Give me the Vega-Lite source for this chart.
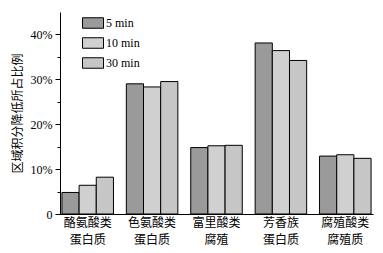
{
  "$schema": "https://vega.github.io/schema/vega-lite/v6.json",
  "autosize": {"type": "none"},
  "padding": {"left": 60, "top": 12, "right": 10, "bottom": 39},
  "width": 313,
  "height": 202,
  "background": "white",
  "config": {"view": {"stroke": null}},
  "data": {
    "values": [
      {"cat": "酪氨酸类\n蛋白质", "t": "5 min", "v": 4.8},
      {"cat": "酪氨酸类\n蛋白质", "t": "10 min", "v": 6.4},
      {"cat": "酪氨酸类\n蛋白质", "t": "30 min", "v": 8.2},
      {"cat": "色氨酸类\n蛋白质", "t": "5 min", "v": 29.0},
      {"cat": "色氨酸类\n蛋白质", "t": "10 min", "v": 28.3},
      {"cat": "色氨酸类\n蛋白质", "t": "30 min", "v": 29.5},
      {"cat": "富里酸类\n腐殖", "t": "5 min", "v": 14.8},
      {"cat": "富里酸类\n腐殖", "t": "10 min", "v": 15.2},
      {"cat": "富里酸类\n腐殖", "t": "30 min", "v": 15.3},
      {"cat": "芳香族\n蛋白质", "t": "5 min", "v": 38.1},
      {"cat": "芳香族\n蛋白质", "t": "10 min", "v": 36.4},
      {"cat": "芳香族\n蛋白质", "t": "30 min", "v": 34.2},
      {"cat": "腐殖酸类\n腐殖质", "t": "5 min", "v": 12.9},
      {"cat": "腐殖酸类\n腐殖质", "t": "10 min", "v": 13.2},
      {"cat": "腐殖酸类\n腐殖质", "t": "30 min", "v": 12.4}
    ]
  },
  "mark": {"type": "bar", "stroke": "black", "strokeWidth": 1},
  "encoding": {
    "x": {
      "field": "cat",
      "type": "nominal",
      "sort": null,
      "scale": {"paddingInner": 0.2, "paddingOuter": 0.03},
      "axis": {
        "title": null,
        "labelAngle": 0,
        "labelExpr": "split(datum.label, '\\n')",
        "labelFont": "Noto Sans CJK SC",
        "labelFontSize": 12,
        "labelColor": "black",
        "labelLineHeight": 17,
        "labelPadding": 3,
        "ticks": false,
        "domainColor": "black",
        "domainWidth": 1
      }
    },
    "xOffset": {"field": "t", "type": "nominal", "sort": ["5 min", "10 min", "30 min"]},
    "y": {
      "field": "v",
      "type": "quantitative",
      "scale": {"domain": [0, 45], "nice": false},
      "axis": {
        "title": "区域积分降低所占比例",
        "titleFont": "Noto Sans CJK SC",
        "titleFontSize": 12,
        "titleFontWeight": "normal",
        "titleColor": "black",
        "titlePadding": 6,
        "values": [0, 5, 10, 15, 20, 25, 30, 35, 40],
        "labelExpr": "datum.value % 10 !== 0 ? '' : (datum.value === 0 ? '0' : datum.value + '%')",
        "labelFont": "Liberation Serif",
        "labelFontSize": 12,
        "labelColor": "black",
        "labelPadding": 3,
        "tickColor": "black",
        "tickSize": {"condition": {"test": "datum.value % 10 === 0", "value": 5}, "value": 3},
        "domainColor": "black",
        "domainWidth": 1,
        "grid": false
      }
    },
    "fill": {
      "field": "t",
      "type": "nominal",
      "sort": ["5 min", "10 min", "30 min"],
      "scale": {"domain": ["5 min", "10 min", "30 min"], "range": ["#9a9a9a", "#d0d0d0", "#c6c6c6"]},
      "legend": {
        "title": null,
        "orient": "none",
        "legendX": 22,
        "legendY": 0,
        "symbolType": "M-1,-0.5H1V0.5H-1Z",
        "symbolSize": 441,
        "symbolStrokeColor": "black",
        "symbolStrokeWidth": 1,
        "symbolOpacity": 1,
        "labelFont": "Liberation Serif",
        "labelFontSize": 12,
        "labelColor": "black",
        "labelOffset": 2,
        "rowPadding": 1,
        "padding": 0
      }
    }
  }
}
